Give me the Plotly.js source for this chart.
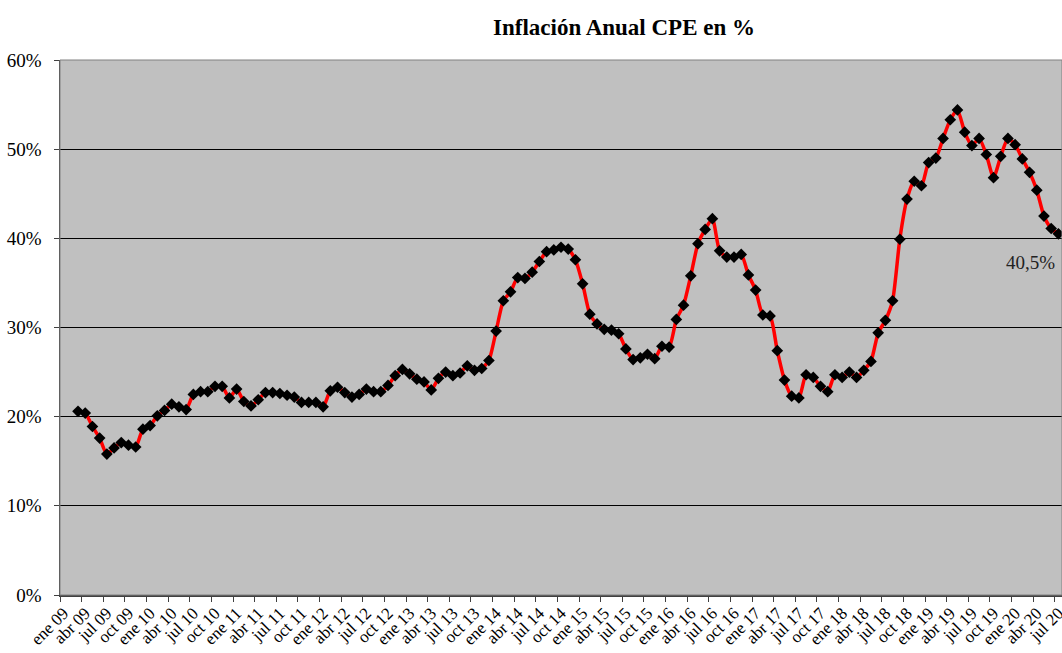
<!DOCTYPE html>
<html>
<head>
<meta charset="utf-8">
<script src="https://cdn.plot.ly/plotly-3.0.1.min.js"></script>
<style>html,body{margin:0;padding:0;background:#fff;}#chart{width:1062px;height:653px;}</style>
</head>
<body>
<div id="chart"></div>
<script>
// Month abbreviations and years used for the category axis labels
var monthNames = ['ene','feb','mar','abr','may','jun','jul','ago','sep','oct','nov','dic'];
var years = ['09','10','11','12','13','14','15','16','17','18','19','20'];
var lastMonthOfLastYear = 7; // axis ends at jul 20
var firstDataMonth = 'mar 09';

// Annual CPE inflation (%), monthly from mar 09 to jul 20
var inflacion = [
  20.6, 20.4, 18.9, 17.6, 15.8, 16.5, 17.1, 16.8, 16.6, 18.6,
  19.0, 20.1, 20.7, 21.4, 21.1, 20.8, 22.5, 22.8, 22.8, 23.4,
  23.4, 22.1, 23.1, 21.7, 21.2, 21.9, 22.7, 22.7, 22.6, 22.4,
  22.2, 21.6, 21.6, 21.6, 21.1, 22.9, 23.3, 22.7, 22.2, 22.5,
  23.1, 22.8, 22.8, 23.5, 24.6, 25.3, 24.8, 24.2, 23.9, 23.0,
  24.3, 25.0, 24.6, 24.9, 25.7, 25.2, 25.4, 26.3, 29.6, 33.0,
  34.0, 35.6, 35.5, 36.2, 37.4, 38.5, 38.7, 39.0, 38.8, 37.6,
  34.9, 31.5, 30.4, 29.8, 29.7, 29.3, 27.6, 26.4, 26.6, 27.0,
  26.5, 27.9, 27.8, 30.9, 32.5, 35.8, 39.4, 41.0, 42.2, 38.6,
  37.9, 37.9, 38.2, 35.9, 34.2, 31.4, 31.3, 27.4, 24.1, 22.3,
  22.1, 24.7, 24.4, 23.4, 22.8, 24.7, 24.4, 25.0, 24.4, 25.2,
  26.2, 29.4, 30.8, 33.0, 39.9, 44.4, 46.4, 45.9, 48.5, 49.0,
  51.2, 53.3, 54.4, 51.9, 50.4, 51.2, 49.4, 46.8, 49.2, 51.2,
  50.5, 48.9, 47.4, 45.4, 42.5, 41.1, 40.5
];

// Build full category list (ene 09 .. jul 20)
var categorias = [];
years.forEach(function (y, yi) {
  var n = (yi === years.length - 1) ? lastMonthOfLastYear : 12;
  for (var m = 0; m < n; m++) categorias.push(monthNames[m] + ' ' + y);
});
var startIdx = categorias.indexOf(firstDataMonth);
var xs = categorias.slice();
var ys = categorias.map(function (c, i) {
  var k = i - startIdx;
  return (k >= 0 && k < inflacion.length) ? inflacion[k] / 100 : null;
});

var serif = '"Liberation Serif", "Times New Roman", Times, serif';
var lastVal = inflacion[inflacion.length - 1];

var trace = {
  x: xs, y: ys, type: 'scatter', mode: 'lines+markers',
  line: {color: '#ff0000', width: 3.5, shape: 'spline', smoothing: 0.6},
  marker: {symbol: 'diamond', size: 9, color: '#000000'},
  connectgaps: false, hoverinfo: 'x+y'
};

var layout = {
  width: 1062, height: 653,
  margin: {l: 60, r: 0, t: 60, b: 58},
  paper_bgcolor: '#ffffff', plot_bgcolor: '#c0c0c0',
  showlegend: false,
  font: {family: serif, color: '#000'},
  title: {text: '<b>Inflación Anual CPE en %</b>', font: {family: serif, size: 23, color: '#000'},
          xref: 'container', x: 0.5876, xanchor: 'center', yref: 'container', y: 0.958, yanchor: 'middle'},
  xaxis: {
    type: 'category', categoryorder: 'array', categoryarray: categorias,
    range: [-0.5, categorias.length - 0.5],
    tickmode: 'linear', tick0: 0, dtick: 3, tickson: 'boundaries',
    tickangle: -45, ticks: 'outside', ticklen: 5, tickcolor: '#404040',
    tickfont: {family: serif, size: 17, color: '#000'},
    showgrid: false, zeroline: false, showline: true, linecolor: '#404040', linewidth: 1.5,
    fixedrange: true
  },
  yaxis: {
    range: [0, 0.6], dtick: 0.1, tickformat: '.0%',
    ticks: 'outside', ticklen: 5, tickcolor: '#404040', ticklabelstandoff: 8,
    tickfont: {family: serif, size: 19, color: '#000'},
    showgrid: true, gridcolor: '#000000', gridwidth: 1,
    zeroline: false, showline: true, linecolor: '#404040', linewidth: 1.5,
    fixedrange: true
  },
  shapes: [{type: 'rect', xref: 'paper', yref: 'paper', x0: 0, x1: 1, y0: 0, y1: 1,
            line: {color: '#808080', width: 1}, layer: 'above'}],
  annotations: [{
    x: categorias[startIdx + inflacion.length - 1], y: lastVal / 100, xref: 'x', yref: 'y',
    text: lastVal.toFixed(1).replace('.', ',') + '%', showarrow: false,
    xshift: -28, yshift: -29, font: {family: serif, size: 19, color: '#222'}
  }]
};

Plotly.newPlot('chart', [trace], layout, {displayModeBar: false, staticPlot: true});
</script>
</body>
</html>
